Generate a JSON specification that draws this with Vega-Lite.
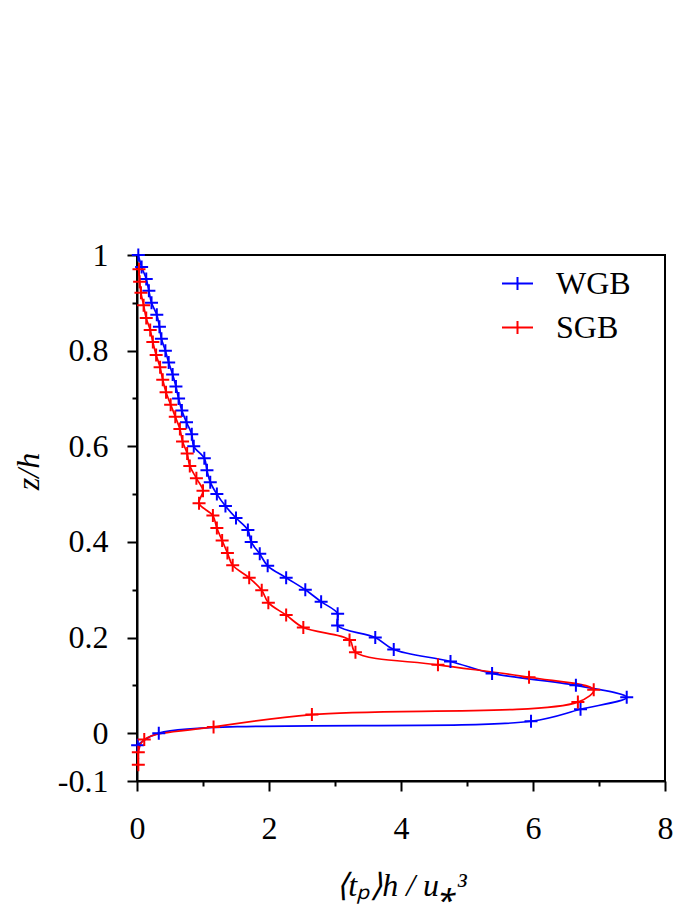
{
  "$schema": "https://vega.github.io/schema/vega-lite/v6.json",
  "width": 528,
  "height": 526,
  "autosize": {"type": "none"},
  "padding": {"left": 137, "top": 255, "right": 12, "bottom": 131},
  "background": "white",
  "config": {
    "view": {"stroke": "black", "strokeWidth": 2},
    "font": "Liberation Serif"
  },
  "datasets": {
    "profiles": [
      {"series": "WGB", "z": 1.0, "x": 0.02},
      {"series": "WGB", "z": 0.975, "x": 0.07},
      {"series": "WGB", "z": 0.95, "x": 0.14},
      {"series": "WGB", "z": 0.925, "x": 0.18},
      {"series": "WGB", "z": 0.9, "x": 0.22},
      {"series": "WGB", "z": 0.875, "x": 0.30},
      {"series": "WGB", "z": 0.85, "x": 0.34},
      {"series": "WGB", "z": 0.825, "x": 0.37},
      {"series": "WGB", "z": 0.8, "x": 0.43},
      {"series": "WGB", "z": 0.775, "x": 0.48},
      {"series": "WGB", "z": 0.75, "x": 0.54},
      {"series": "WGB", "z": 0.725, "x": 0.59},
      {"series": "WGB", "z": 0.7, "x": 0.63},
      {"series": "WGB", "z": 0.675, "x": 0.68},
      {"series": "WGB", "z": 0.65, "x": 0.75},
      {"series": "WGB", "z": 0.625, "x": 0.83},
      {"series": "WGB", "z": 0.6, "x": 0.86},
      {"series": "WGB", "z": 0.575, "x": 1.02},
      {"series": "WGB", "z": 0.55, "x": 1.06},
      {"series": "WGB", "z": 0.525, "x": 1.11},
      {"series": "WGB", "z": 0.5, "x": 1.21},
      {"series": "WGB", "z": 0.475, "x": 1.34},
      {"series": "WGB", "z": 0.45, "x": 1.50},
      {"series": "WGB", "z": 0.425, "x": 1.68},
      {"series": "WGB", "z": 0.4, "x": 1.73},
      {"series": "WGB", "z": 0.375, "x": 1.86},
      {"series": "WGB", "z": 0.35, "x": 1.98},
      {"series": "WGB", "z": 0.325, "x": 2.26},
      {"series": "WGB", "z": 0.3, "x": 2.55},
      {"series": "WGB", "z": 0.275, "x": 2.79},
      {"series": "WGB", "z": 0.25, "x": 3.04},
      {"series": "WGB", "z": 0.225, "x": 3.04},
      {"series": "WGB", "z": 0.2, "x": 3.61},
      {"series": "WGB", "z": 0.175, "x": 3.89},
      {"series": "WGB", "z": 0.15, "x": 4.75},
      {"series": "WGB", "z": 0.125, "x": 5.38},
      {"series": "WGB", "z": 0.1, "x": 6.65},
      {"series": "WGB", "z": 0.075, "x": 7.42},
      {"series": "WGB", "z": 0.05, "x": 6.72},
      {"series": "WGB", "z": 0.025, "x": 5.97},
      {"series": "WGB", "z": 0.0, "x": 0.33},
      {"series": "WGB", "z": -0.025, "x": 0.01},
      {"series": "SGB", "z": 0.970, "x": 0.03},
      {"series": "SGB", "z": 0.944, "x": 0.04},
      {"series": "SGB", "z": 0.921, "x": 0.06},
      {"series": "SGB", "z": 0.895, "x": 0.10},
      {"series": "SGB", "z": 0.868, "x": 0.14},
      {"series": "SGB", "z": 0.843, "x": 0.20},
      {"series": "SGB", "z": 0.818, "x": 0.24},
      {"series": "SGB", "z": 0.791, "x": 0.29},
      {"series": "SGB", "z": 0.765, "x": 0.35},
      {"series": "SGB", "z": 0.739, "x": 0.39},
      {"series": "SGB", "z": 0.713, "x": 0.44},
      {"series": "SGB", "z": 0.687, "x": 0.51},
      {"series": "SGB", "z": 0.662, "x": 0.58},
      {"series": "SGB", "z": 0.636, "x": 0.65},
      {"series": "SGB", "z": 0.610, "x": 0.69},
      {"series": "SGB", "z": 0.585, "x": 0.76},
      {"series": "SGB", "z": 0.559, "x": 0.80},
      {"series": "SGB", "z": 0.533, "x": 0.90},
      {"series": "SGB", "z": 0.507, "x": 1.00},
      {"series": "SGB", "z": 0.481, "x": 0.94},
      {"series": "SGB", "z": 0.455, "x": 1.15},
      {"series": "SGB", "z": 0.429, "x": 1.21},
      {"series": "SGB", "z": 0.403, "x": 1.29},
      {"series": "SGB", "z": 0.377, "x": 1.37},
      {"series": "SGB", "z": 0.351, "x": 1.45},
      {"series": "SGB", "z": 0.325, "x": 1.70},
      {"series": "SGB", "z": 0.299, "x": 1.89},
      {"series": "SGB", "z": 0.273, "x": 1.99},
      {"series": "SGB", "z": 0.247, "x": 2.26},
      {"series": "SGB", "z": 0.221, "x": 2.52},
      {"series": "SGB", "z": 0.195, "x": 3.22},
      {"series": "SGB", "z": 0.169, "x": 3.31},
      {"series": "SGB", "z": 0.143, "x": 4.56},
      {"series": "SGB", "z": 0.117, "x": 5.94},
      {"series": "SGB", "z": 0.091, "x": 6.92},
      {"series": "SGB", "z": 0.065, "x": 6.68},
      {"series": "SGB", "z": 0.039, "x": 2.65},
      {"series": "SGB", "z": 0.013, "x": 1.16},
      {"series": "SGB", "z": -0.013, "x": 0.11},
      {"series": "SGB", "z": -0.040, "x": 0.02},
      {"series": "SGB", "z": -0.066, "x": 0.02}
    ]
  },
  "layer": [
    {
      "data": {"values": [{"z": 0}]},
      "mark": {"type": "rule", "color": "black", "strokeWidth": 2},
      "encoding": {
        "y": {"field": "z", "type": "quantitative", "scale": {"domain": [-0.1, 1], "nice": false, "zero": false}}
      }
    },
    {
      "data": {"name": "profiles"},
      "mark": {"type": "line", "interpolate": "catmull-rom", "strokeWidth": 1.7},
      "encoding": {
        "x": {"field": "x", "type": "quantitative"},
        "y": {"field": "z", "type": "quantitative"},
        "order": {"field": "z", "sort": "descending"},
        "color": {"field": "series", "type": "nominal"}
      }
    },
    {
      "data": {"name": "profiles"},
      "mark": {"type": "point", "shape": "M-1,0H1M0,-1V1", "filled": false, "strokeWidth": 2, "size": 169, "opacity": 1},
      "encoding": {
        "x": {"field": "x", "type": "quantitative"},
        "y": {"field": "z", "type": "quantitative"},
        "color": {"field": "series", "type": "nominal"}
      }
    }
  ],
  "encoding": {
    "x": {
      "field": "x",
      "type": "quantitative",
      "scale": {"domain": [0, 8], "nice": false, "zero": false},
      "axis": {
        "title": "⟨tₚ⟩h / u⁎³",
        "titleFont": "Liberation Serif",
        "titleFontStyle": "italic",
        "titleFontWeight": "normal",
        "titleFontSize": 32,
        "titleColor": "black",
        "titleBaseline": "middle",
        "titleY": 104,
        "values": [0, 1, 2, 3, 4, 5, 6, 7, 8],
        "labelExpr": "datum.value % 2 == 1 ? '' : format(datum.value, '~g')",
        "labelFont": "Liberation Serif",
        "labelFontSize": 32,
        "labelColor": "black",
        "labelPadding": 22,
        "labelFlush": false,
        "labelOverlap": false,
        "tickSize": {"condition": {"test": "datum.value % 2 == 1", "value": 5}, "value": 10},
        "tickColor": "black",
        "tickWidth": 2,
        "domainColor": "black",
        "domainWidth": 2,
        "grid": false
      }
    },
    "y": {
      "field": "z",
      "type": "quantitative",
      "scale": {"domain": [-0.1, 1], "nice": false, "zero": false},
      "axis": {
        "title": "z/h",
        "titleFont": "Liberation Serif",
        "titleFontStyle": "italic",
        "titleFontWeight": "normal",
        "titleFontSize": 32,
        "titleColor": "black",
        "titleAngle": -90,
        "titleBaseline": "middle",
        "titleAlign": "center",
        "titleX": -109,
        "titleY": 216,
        "values": [-0.1, 0, 0.1, 0.2, 0.3, 0.4, 0.5, 0.6, 0.7, 0.8, 0.9, 1],
        "labelExpr": "indexof([0.1, 0.3, 0.5, 0.7, 0.9], datum.value) >= 0 ? '' : (datum.value < 0 ? '-0.1' : format(datum.value, '~g'))",
        "labelFont": "Liberation Serif",
        "labelFontSize": 32,
        "labelColor": "black",
        "labelPadding": 19,
        "labelFlush": false,
        "labelOverlap": false,
        "tickSize": {"condition": {"test": "indexof([0.1, 0.3, 0.5, 0.7, 0.9], datum.value) >= 0", "value": 5}, "value": 10},
        "tickColor": "black",
        "tickWidth": 2,
        "domainColor": "black",
        "domainWidth": 2,
        "grid": false
      }
    },
    "color": {
      "field": "series",
      "type": "nominal",
      "scale": {"domain": ["WGB", "SGB"], "range": ["#0000ff", "#ff0000"]},
      "legend": {
        "title": null,
        "orient": "none",
        "legendX": 364,
        "legendY": 12,
        "padding": 0,
        "symbolType": "M-1,0H1M0,-0.42V0.42",
        "symbolSize": 961,
        "symbolStrokeWidth": 2,
        "symbolFillColor": "transparent",
        "labelFont": "Liberation Serif",
        "labelFontSize": 32,
        "labelColor": "black",
        "labelOffset": 22,
        "rowPadding": 11,
        "labelLimit": 300
      }
    }
  }
}
